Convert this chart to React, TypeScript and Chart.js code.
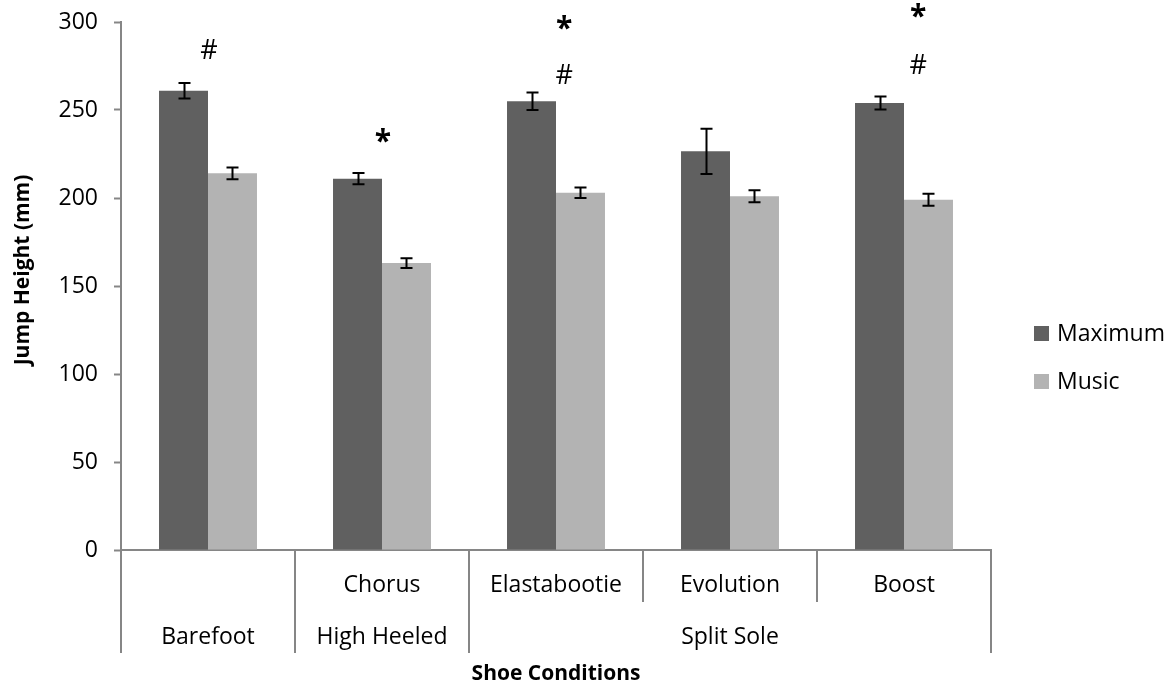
import React, { useEffect, useRef } from "react";
import { Chart, registerables } from "chart.js";

Chart.register(...registerables);

const subLabels = ["", "Chorus", "Elastabootie", "Evolution", "Boost"];
const groupLabels = ["Barefoot", "High Heeled", "Split Sole"];
const groupSpans = [1, 1, 3];

const maximumValues = [261, 211, 255, 226.5, 254];
const maximumErrors = [4.4, 3.2, 5.0, 12.9, 3.7];
const musicValues = [214, 163, 203, 201, 199];
const musicErrors = [3.3, 2.8, 3.0, 3.4, 3.4];

const annotCategory = [0, 1, 2, 2, 4, 4];
const annotOffset = [0.005, 0.005, 0.046, 0.046, 0.08, 0.08];
const annotValue = [284.5, 235.5, 300, 270.5, 306.5, 276];
const annotText = ["#", "*", "*", "#", "*", "#"];

const yTicks = [0, 50, 100, 150, 200, 250, 300];

const FONT = "'Open Sans', 'Noto Sans', sans-serif";
const AXIS_GRAY = "#868686";
const MAX_COLOR = "#606060";
const MUSIC_COLOR = "#b3b3b3";

const errorBarPlugin = {
  id: "errorBars",
  afterDatasetsDraw(chart: any) {
    const ctx = chart.ctx;
    const y = chart.scales.y;
    const errs = [maximumErrors, musicErrors];
    const vals = [maximumValues, musicValues];
    ctx.save();
    ctx.strokeStyle = "#000";
    ctx.lineWidth = 2;
    for (let d = 0; d < 2; d++) {
      const meta = chart.getDatasetMeta(d);
      meta.data.forEach((bar: any, i: number) => {
        const x = Math.round(bar.x) + 0.5;
        const top = y.getPixelForValue(vals[d][i] + errs[d][i]);
        const bot = y.getPixelForValue(vals[d][i] - errs[d][i]);
        ctx.beginPath();
        ctx.moveTo(x, top);
        ctx.lineTo(x, bot);
        ctx.moveTo(x - 6, top);
        ctx.lineTo(x + 6, top);
        ctx.moveTo(x - 6, bot);
        ctx.lineTo(x + 6, bot);
        ctx.stroke();
      });
    }
    ctx.restore();
  },
};

const decorPlugin = {
  id: "decor",
  afterDraw(chart: any) {
    const ctx = chart.ctx;
    const xs = chart.scales.x;
    const ys = chart.scales.y;
    const area = chart.chartArea;
    ctx.save();

    // annotations
    annotText.forEach((t, i) => {
      const px = xs.getPixelForValue(annotCategory[i] + annotOffset[i]);
      const py = ys.getPixelForValue(annotValue[i]);
      ctx.font = t === "#" ? `27px ${FONT}` : `bold 30px ${FONT}`;
      ctx.fillStyle = "#000";
      const m = ctx.measureText(t);
      const w = m.actualBoundingBoxLeft + m.actualBoundingBoxRight;
      const h = m.actualBoundingBoxAscent + m.actualBoundingBoxDescent;
      ctx.textAlign = "left";
      ctx.textBaseline = "alphabetic";
      ctx.fillText(t, px - w / 2 + m.actualBoundingBoxLeft, py - h / 2 + m.actualBoundingBoxAscent);
    });

    // category separators
    const bottom = area.bottom;
    const n = subLabels.length;
    const groupBounds: number[] = [0];
    groupSpans.reduce((acc, s) => {
      groupBounds.push(acc + s);
      return acc + s;
    }, 0);
    ctx.strokeStyle = AXIS_GRAY;
    ctx.lineWidth = 2;
    for (let b = 0; b <= n; b++) {
      const x = xs.getPixelForValue(b - 0.5);
      const full = groupBounds.includes(b);
      ctx.beginPath();
      ctx.moveTo(x, bottom);
      ctx.lineTo(x, bottom + (full ? 103 : 52));
      ctx.stroke();
    }

    // row 1 labels
    ctx.fillStyle = "#000";
    ctx.font = `23px ${FONT}`;
    ctx.textAlign = "center";
    ctx.textBaseline = "middle";
    subLabels.forEach((l, i) => {
      if (l) ctx.fillText(l, xs.getPixelForValue(i), bottom + 35);
    });
    // row 2 group labels
    let start = 0;
    groupLabels.forEach((g, gi) => {
      const end = start + groupSpans[gi] - 1;
      const cx = (xs.getPixelForValue(start) + xs.getPixelForValue(end)) / 2;
      ctx.fillText(g, cx, bottom + 87);
      start = end + 1;
    });

    // x title
    ctx.font = `bold 21px ${FONT}`;
    ctx.fillText("Shoe Conditions", (area.left + area.right) / 2, bottom + 124);

    // y title
    ctx.save();
    ctx.translate(23, 270);
    ctx.rotate(-Math.PI / 2);
    ctx.fillText("Jump Height (mm)", 0, 0);
    ctx.restore();

    // legend
    const legend = [
      { label: "Maximum", color: MAX_COLOR },
      { label: "Music", color: MUSIC_COLOR },
    ];
    ctx.font = `23px ${FONT}`;
    ctx.textAlign = "left";
    legend.forEach((it, i) => {
      const cy = 333.5 + i * 48;
      ctx.fillStyle = it.color;
      ctx.fillRect(1034, cy - 7.5, 15, 15);
      ctx.fillStyle = "#000";
      ctx.fillText(it.label, 1057, cy + 1);
    });

    ctx.restore();
  },
};

export default function App() {
  const canvasRef = useRef<HTMLCanvasElement | null>(null);

  useEffect(() => {
    document.body.style.margin = "0";
    document.body.style.overflow = "hidden";
    if (!canvasRef.current) return;
    const chart = new Chart(canvasRef.current, {
      type: "bar",
      data: {
        labels: subLabels.map((l, i) => l || groupLabels[0] + i),
        datasets: [
          {
            label: "Maximum",
            data: maximumValues,
            backgroundColor: MAX_COLOR,
            categoryPercentage: 0.563,
            barPercentage: 1,
          },
          {
            label: "Music",
            data: musicValues,
            backgroundColor: MUSIC_COLOR,
            categoryPercentage: 0.563,
            barPercentage: 1,
          },
        ],
      },
      options: {
        animation: false,
        responsive: true,
        maintainAspectRatio: false,
        layout: { padding: { top: 22, right: 181, bottom: 0, left: 0 } },
        plugins: {
          legend: { display: false },
          title: { display: false },
          tooltip: { enabled: false },
        },
        scales: {
          x: {
            ticks: { display: false },
            grid: { display: false },
            border: { display: true, color: AXIS_GRAY, width: 2 },
            afterFit: (s: any) => {
              s.height = 136;
            },
          },
          y: {
            min: 0,
            max: 300,
            afterBuildTicks: (s: any) => {
              s.ticks = yTicks.map((v) => ({ value: v }));
            },
            ticks: {
              font: { family: FONT, size: 23 },
              color: "#000",
              padding: 16,
            },
            grid: {
              display: true,
              drawOnChartArea: false,
              drawTicks: true,
              tickLength: 7,
              tickWidth: 2,
              tickColor: AXIS_GRAY,
              color: AXIS_GRAY,
            },
            border: { display: true, color: AXIS_GRAY, width: 2 },
            afterFit: (s: any) => {
              s.width = 121;
              s.paddingTop = 0;
              s.paddingBottom = 0;
            },
          },
        },
      },
      plugins: [errorBarPlugin, decorPlugin],
    });
    return () => chart.destroy();
  }, []);

  return (
    <div style={{ width: "1172px", height: "686px", position: "relative" }}>
      <canvas ref={canvasRef} />
    </div>
  );
}
